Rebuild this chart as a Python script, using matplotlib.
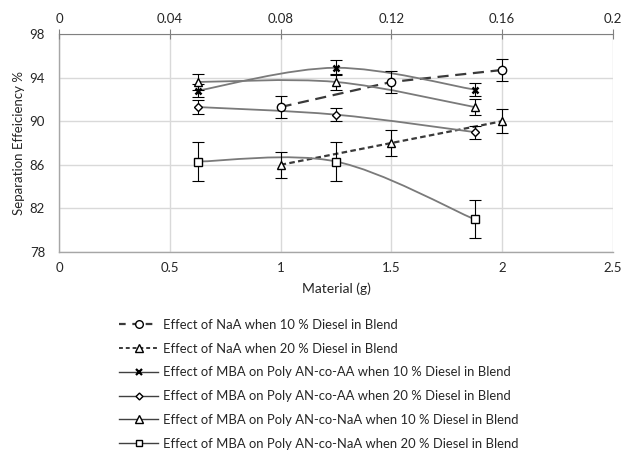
import matplotlib
matplotlib.use("Agg")
import matplotlib.pyplot as plt
from matplotlib.path import Path
from matplotlib.patches import PathPatch
from matplotlib.lines import Line2D

plt.rcParams['font.family'] = ['Lato', 'DejaVu Sans']

# Data
x_naa = [1.0, 1.5, 2.0]
x_mba = [0.625, 1.25, 1.875]
naa_10 = [91.3, 93.6, 94.7]
naa_10_err = [1.0, 1.0, 1.0]
naa_20 = [86.0, 88.0, 90.0]
naa_20_err = [1.2, 1.15, 1.1]
mba_aa_10 = [92.8, 94.9, 92.9]
mba_aa_10_err = [0.6, 0.7, 0.6]
mba_aa_20 = [91.3, 90.6, 89.0]
mba_aa_20_err = [0.6, 0.6, 0.6]
mba_naa_10 = [93.6, 93.6, 91.3]
mba_naa_10_err = [0.75, 0.75, 0.7]
mba_naa_20 = [86.3, 86.3, 81.0]
mba_naa_20_err = [1.75, 1.75, 1.75]

labels = [
    "Effect of NaA when 10 % Diesel in Blend",
    "Effect of NaA when 20 % Diesel in Blend",
    "Effect of MBA on Poly AN-co-AA when 10 % Diesel in Blend",
    "Effect of MBA on Poly AN-co-AA when 20 % Diesel in Blend",
    "Effect of MBA on Poly AN-co-NaA when 10 % Diesel in Blend",
    "Effect of MBA on Poly AN-co-NaA when 20 % Diesel in Blend",
]
bottom_ticks = [0, 0.5, 1, 1.5, 2, 2.5]
bottom_ticklabels = ["0", "0.5", "1", "1.5", "2", "2.5"]
top_ticks = [0, 0.04, 0.08, 0.12, 0.16, 0.2]
top_ticklabels = ["0", "0.04", "0.08", "0.12", "0.16", "0.2"]
y_ticks = [78, 82, 86, 90, 94, 98]

fig = plt.figure(figsize=(6.24, 4.54), dpi=100)
ax = fig.add_axes([59/624, 1-252/454, (613-59)/624, (252-34)/454])

GRID = '#d9d9d9'
LINE_SOLID = '#7a7a7a'
LINE_DASH = '#3a3a3a'
TXT = '#262626'


def smooth_path(xs, ys):
    pts = list(zip(xs, ys))
    n = len(pts)
    verts = [pts[0]]
    codes = [Path.MOVETO]
    for i in range(n - 1):
        p0 = pts[i - 1] if i > 0 else pts[i]
        p1 = pts[i]
        p2 = pts[i + 1]
        p3 = pts[i + 2] if i + 2 < n else pts[i + 1]
        c1 = (p1[0] + (p2[0] - p0[0]) / 6, p1[1] + (p2[1] - p0[1]) / 6)
        c2 = (p2[0] - (p3[0] - p1[0]) / 6, p2[1] - (p3[1] - p1[1]) / 6)
        verts += [c1, c2, p2]
        codes += [Path.CURVE4] * 3
    return Path(verts, codes)


mk = dict(markerfacecolor='white', markeredgecolor='black', markeredgewidth=1.0)
eb = dict(fmt='none', ecolor='black', elinewidth=0.8, capsize=4.5, capthick=0.8, zorder=3)

handles = []
# NaA series: straight dashed lines
ax.errorbar(x_naa, naa_10, yerr=naa_10_err, **eb)
ax.plot(x_naa, naa_10, color=LINE_DASH, lw=1.6, dashes=(5, 3), zorder=2)
ax.plot(x_naa, naa_10, ls='none', marker='o', markersize=6, zorder=4, **mk)
handles.append(Line2D([], [], color=LINE_DASH, lw=1.6, dashes=(3, 3), marker='o', markersize=5.5, **mk))

ax.errorbar(x_naa, naa_20, yerr=naa_20_err, **eb)
ax.plot(x_naa, naa_20, color=LINE_DASH, lw=1.6, dashes=(2.5, 1.5), zorder=2)
ax.plot(x_naa, naa_20, ls='none', marker='^', markersize=6, zorder=4, **mk)
handles.append(Line2D([], [], color=LINE_DASH, lw=1.4, dashes=(2, 1.5), marker='^', markersize=5.5, **mk))

# MBA series: smoothed solid lines
mba_series = [
    (mba_aa_10, mba_aa_10_err, 'x', 5),
    (mba_aa_20, mba_aa_20_err, 'D', 4),
    (mba_naa_10, mba_naa_10_err, '^', 6),
    (mba_naa_20, mba_naa_20_err, 's', 5.5),
]
for ys, err, m, ms in mba_series:
    ax.add_patch(PathPatch(smooth_path(x_mba, ys), facecolor='none', edgecolor=LINE_SOLID, lw=1.3, zorder=2))
    ax.errorbar(x_mba, ys, yerr=err, **eb)
    if m == 'x':
        ax.plot(x_mba, ys, ls='none', marker='x', markersize=ms, color='black', markeredgewidth=1.8, zorder=4)
        handles.append(Line2D([], [], color='#404040', lw=1.0, marker='x', markersize=5, markeredgecolor='black', markeredgewidth=1.6))
    else:
        ax.plot(x_mba, ys, ls='none', marker=m, markersize=ms, zorder=4, **mk)
        handles.append(Line2D([], [], color='#404040', lw=1.0, marker=m, markersize=ms - 0.5, **mk))

ax.set_xlim(0, 2.5)
ax.set_ylim(78, 98)
ax.set_xticks(bottom_ticks)
ax.set_xticklabels(bottom_ticklabels)
ax.set_yticks(y_ticks)
ax.grid(True, color=GRID, lw=1.0)
ax.set_axisbelow(True)
for s in ['top', 'right']:
    ax.spines[s].set_visible(False)
for s in ['left', 'bottom']:
    ax.spines[s].set_color('#a6a6a6')
    ax.spines[s].set_linewidth(1.0)
ax.tick_params(axis='both', length=0, labelsize=9.5, colors=TXT, pad=7)
ax.tick_params(axis='y', pad=10)

ax2 = ax.twiny()
ax2.set_xlim(0, 0.2)
ax2.set_xticks(top_ticks)
ax2.set_xticklabels(top_ticklabels)
ax2.tick_params(axis='x', direction='inout', length=7, width=0.8, color='#808080', labelsize=9.5, labelcolor=TXT, pad=3)
for s in ['left', 'right', 'bottom']:
    ax2.spines[s].set_visible(False)
ax2.spines['top'].set_color('#808080')
ax2.spines['top'].set_linewidth(0.8)

ax.set_xlabel("Material (g)", fontsize=10, color=TXT, labelpad=6)
ax.set_ylabel("Separation Effeiciency %", fontsize=9.5, color=TXT, labelpad=3)

fig.legend(handles, labels, loc='upper left', bbox_to_anchor=(119/624, 1-319/454),
           frameon=False, fontsize=9.4, handlelength=3.0, handletextpad=0.4,
           labelspacing=0.9, borderaxespad=0, borderpad=0, labelcolor=TXT)

fig.savefig("out.png", dpi=100)
